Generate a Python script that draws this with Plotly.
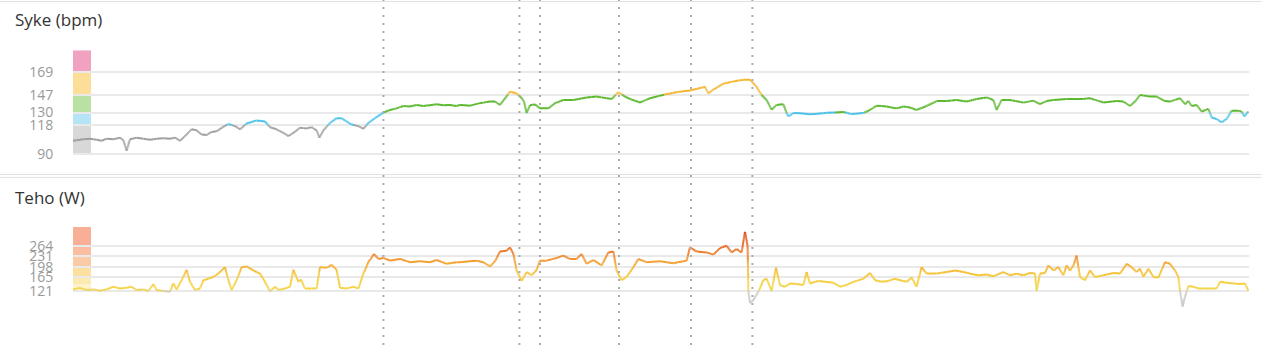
import numpy as np
import plotly.graph_objects as go

# ---------------- data ----------------
# time in seconds from start
hr_t = [0, 52, 85, 118, 143, 168, 202, 235, 252, 268, 285, 318, 352, 385, 418, 452, 485, 510, 535, 560,
        593, 618, 643, 668, 693, 718, 743, 777, 810, 835, 868, 918, 960, 985, 1018, 1052, 1077, 1102, 1135,
        1168, 1193, 1218, 1232, 1252, 1285, 1318, 1343, 1368, 1393, 1427, 1452, 1477, 1510, 1552, 1585,
        1618, 1652, 1685, 1718, 1752, 1785, 1818, 1852, 1885, 1918,
        1935, 1985, 2035, 2085, 2110, 2135, 2160, 2185, 2218, 2243, 2255, 2268, 2285, 2310, 2335, 2377,
        2410, 2452, 2502, 2568, 2618, 2668, 2693, 2727, 2760, 2785, 2835, 2885, 2935, 2985, 3035, 3085,
        3127, 3160, 3177, 3202, 3252, 3302, 3352, 3385, 3418, 3443, 3468, 3493, 3518, 3552, 3565, 3577,
        3602, 3635, 3685, 3735, 3768, 3852, 3893, 3935,
        3952, 3985, 4018, 4068, 4118, 4152, 4185, 4218, 4268, 4318, 4368, 4418, 4468, 4518, 4568, 4602,
        4618, 4643, 4685, 4752, 4802, 4835, 4868, 4902, 4968, 5052, 5085, 5152, 5218, 5252, 5285, 5310,
        5335, 5385, 5418, 5460, 5485, 5535, 5560, 5577, 5593, 5618, 5643, 5677, 5693, 5718, 5743, 5768,
        5793, 5827, 5843, 5857, 5877]
hr_v = [103, 104.5, 105, 104, 103, 105, 104.5, 106, 103.5, 93.5, 104.5, 106, 105, 104, 105, 105.5, 105, 106, 103, 107.5,
        114, 113, 109, 108.5, 111.5, 112, 115.4, 119, 117, 114, 119.5, 122.5, 121.5, 116, 114, 110.6, 107.5, 110.6, 115.4,
        114.8, 116, 113, 106, 113, 120, 124.6, 124.6, 121.5, 118.5, 117, 114.5, 120, 124.6, 130, 132.5,
        134, 136.3, 135.7, 137.2, 136.3, 137, 138, 137, 137.2, 136.3,
        137.3, 136.6, 139, 140.5, 140.5, 137.3, 143.5, 150, 148.3, 144, 140.5, 129.5, 137, 137.8, 134, 134,
        139, 142, 142, 144.4, 145.3, 143.7, 143, 149.4, 145.3, 143, 139.6, 143.7, 146.2, 148.3, 150, 151,
        153, 154.6, 148.3, 152, 157.6, 159.8, 161.4, 161.4, 154.6, 146.8, 142, 132.7, 137.3, 138, 131, 126.3,
        129.5, 129.3, 128.3, 129, 129.8, 130.5, 128.5, 129.3,
        129.5, 132.5, 136.6, 135.7, 134, 135.7, 134.8, 132.5, 136.3, 141, 141, 142, 140.5, 143, 144.5, 142,
        132.5, 142, 142, 139.5, 141.4, 138, 141, 142, 143, 143, 143.7, 139.6, 141, 140.5, 136.3, 140.5,
        146.8, 145.3, 145.3, 141, 140.5, 143.7, 138, 141, 136.3, 137.3, 131, 133.5, 125.3, 123.8, 120.7, 123.8,
        131.7, 131.7, 131, 126.3, 131]

pw_t = [0, 35, 68, 102, 135, 168, 202, 235, 268, 293, 318, 352, 377, 402, 418, 452, 485, 502, 518, 543,
        568, 585, 610, 635, 652, 677, 702, 727, 760, 777, 793, 818, 843, 868, 902, 935, 960, 985, 1010, 1027,
        1060, 1085, 1102, 1127, 1140, 1160, 1193, 1218, 1235, 1268, 1293, 1318, 1335, 1368, 1402, 1427, 1452,
        1477, 1505, 1527, 1552, 1585, 1635, 1685, 1735, 1785, 1818, 1868, 1918,
        1935, 1985, 2018, 2052, 2085, 2110, 2135, 2168, 2185, 2202, 2218, 2243, 2268, 2293, 2318, 2335, 2368,
        2418, 2452, 2485, 2518, 2543, 2568, 2602, 2643, 2677, 2702, 2718, 2743, 2768, 2802, 2827, 2868, 2935,
        3002, 3068, 3085, 3118, 3168, 3202, 3235, 3268, 3293, 3318, 3343, 3360, 3373, 3377, 3385, 3402, 3427,
        3452, 3468, 3493, 3515, 3535, 3560, 3585, 3618, 3652, 3668, 3685, 3727, 3760, 3802, 3835, 3868, 3902,
        3918, 3952, 3985, 4010, 4043, 4077, 4110, 4135, 4168, 4193, 4218, 4243, 4268, 4318, 4368, 4410, 4452,
        4485, 4527, 4568, 4602, 4652, 4685, 4718, 4752, 4785, 4810, 4818, 4835, 4860, 4877, 4902, 4927, 4952,
        4968, 4985, 5002, 5018, 5035, 5060, 5085, 5110, 5152, 5202, 5235, 5268, 5293, 5318, 5335, 5352, 5377,
        5402, 5427, 5460, 5485, 5510, 5527, 5535, 5548, 5560, 5577, 5602, 5627, 5652, 5685, 5718, 5735, 5768,
        5802, 5835, 5860, 5877]
pw_v = [126, 131, 124, 126, 122, 126, 134.5, 129, 131, 134.5, 124, 126, 121, 143, 124, 121, 119, 145, 126, 155,
        188, 150, 124, 129, 155, 160, 165.5, 176, 196.5, 155, 124, 155, 196.5, 198.6, 186, 176, 150, 120, 134.5, 124,
        129, 134.5, 188, 150, 157, 129, 129, 129, 196.5, 194.5, 203.8, 188, 131, 129, 134.5, 129, 176,
        212, 238, 222.4, 225.5, 217, 222.4, 212, 215, 212, 219, 207, 212,
        212, 215, 217, 212, 198.6, 215, 246, 248, 258.7, 238, 186, 153, 181, 170.7, 188, 217, 217,
        225.5, 232.8, 222.4, 222.4, 238, 207, 219, 202, 243, 246, 186, 155, 165.5, 196.5, 222.4, 212, 215,
        209, 217, 258.7, 246, 243, 236, 256.6, 264, 243, 253.5, 243, 308, 264, 121, 82.7, 93, 119,
        155, 160, 121, 194.5, 139.6, 134.5, 145, 143, 139.6, 181, 145, 153, 150, 147, 134.5, 140, 150,
        153, 160, 178, 155, 150, 153, 160, 155, 150, 163.5, 134.5, 196.5, 176, 176, 181, 186, 181,
        176, 170.7, 173, 167.6, 181, 170.7, 176, 170.7, 178, 176, 121, 176, 178, 201.7, 186, 196.5, 170.7,
        201.7, 186, 201.7, 232.8, 165.5, 155, 186, 165.5, 170.7, 178, 176, 207, 196.5, 181, 191.4, 165.5, 191.4,
        165.5, 163.5, 212, 207, 186, 165.5, 121, 72, 103.4, 136.5, 134.5, 129, 129, 129, 129, 150, 147,
        145, 143, 145, 121]

lap_t = [1552, 2232, 2335, 2730, 3090, 3397]

hr_ticks = [90, 118, 130, 147, 169]
hr_zone_top = 189.7
hr_zone_colors = ["#D8D8D8", "#B4E4F5", "#B8E1A2", "#FDDE98", "#F0A2C0"]
hr_line_colors = ["#9E9E9E", "#4AC2E8", "#5CB82E", "#F5B52E", "#E8709E"]

pw_ticks = [121, 165, 198, 231, 264]
pw_zone_edges = [121, 143, 165, 198, 231, 264, 323]
pw_zone_colors = ["#FEF3CA", "#FDEAB0", "#FDDFA0", "#FBCBA8", "#FABDA0", "#F8AF95"]

T_END = 5880

# ---------------- helpers ----------------
def hr_color(v):
    idx = 0
    for k, th in enumerate(hr_ticks[1:]):
        if v >= th:
            idx = k + 1
    return hr_line_colors[idx]

pw_stops = [(100, (200, 200, 200)), (119, (204, 204, 204)), (125, (244, 214, 74)),
            (170, (245, 200, 56)), (200, (244, 176, 50)), (225, (241, 145, 50)),
            (255, (236, 112, 40)), (310, (226, 72, 26))]

def pw_color(v):
    v = round(v / 4) * 4
    if v <= pw_stops[0][0]:
        c = pw_stops[0][1]
    elif v >= pw_stops[-1][0]:
        c = pw_stops[-1][1]
    else:
        for (a, ca), (b, cb) in zip(pw_stops[:-1], pw_stops[1:]):
            if a <= v <= b:
                f = (v - a) / (b - a)
                c = tuple(int(round(ca[i] + (cb[i] - ca[i]) * f)) for i in range(3))
                break
    return "rgb(%d,%d,%d)" % c

def colored_traces(t, v, cfn, step, xaxis, yaxis, width):
    buckets = {}
    for i in range(len(t) - 1):
        t0, t1, v0, v1 = t[i], t[i + 1], v[i], v[i + 1]
        n = max(1, int(np.ceil(abs(v1 - v0) / step)))
        for k in range(n):
            a, b = k / n, (k + 1) / n
            xa, xb = t0 + (t1 - t0) * a, t0 + (t1 - t0) * b
            ya, yb = v0 + (v1 - v0) * a, v0 + (v1 - v0) * b
            c = cfn((ya + yb) / 2)
            bx, by = buckets.setdefault(c, ([], []))
            bx += [xa, xb, None]
            by += [ya, yb, None]
    out = []
    for c, (bx, by) in buckets.items():
        out.append(go.Scatter(x=bx, y=by, mode="lines", xaxis=xaxis, yaxis=yaxis,
                              line=dict(color=c, width=width), hoverinfo="skip",
                              showlegend=False, connectgaps=False))
    return out

W, H = 1262, 355
def py(px):
    return 1 - px / H

fig = go.Figure()
for tr in colored_traces(hr_t, hr_v, hr_color, 0.5, "x", "y", 2):
    fig.add_trace(tr)
for tr in colored_traces(pw_t, pw_v, pw_color, 3, "x2", "y2", 2):
    fig.add_trace(tr)

xdom = [73 / W, 1249 / W]
axfont = dict(family="Open Sans", size=14, color="#999999")
fig.update_layout(
    width=W, height=H, margin=dict(l=0, r=0, t=0, b=0),
    paper_bgcolor="white", plot_bgcolor="white",
    xaxis=dict(domain=xdom, range=[0, T_END], visible=False, fixedrange=True),
    xaxis2=dict(domain=xdom, range=[0, T_END], visible=False, anchor="y2", fixedrange=True),
    yaxis=dict(domain=[py(160), py(51)], range=[87.2, 189.7], tickvals=hr_ticks,
               showgrid=True, gridcolor="#E9E9E9", gridwidth=2, zeroline=False,
               showline=False, ticks="outside", ticklen=16, tickcolor="rgba(0,0,0,0)",
               tickfont=axfont, fixedrange=True),
    yaxis2=dict(domain=[py(320), py(231)], range=[46.5, 323], tickvals=pw_ticks,
                showgrid=True, gridcolor="#E9E9E9", gridwidth=2, zeroline=False,
                showline=False, ticks="outside", ticklen=16, tickcolor="rgba(0,0,0,0)",
                tickfont=axfont, anchor="x2", fixedrange=True),
)

shapes = []
bar_w = 18 / 1176
hr_edges = hr_ticks + [hr_zone_top]
for i, col in enumerate(hr_zone_colors):
    shapes.append(dict(type="rect", xref="x domain", yref="y", x0=0, x1=bar_w,
                       y0=hr_edges[i], y1=hr_edges[i + 1], fillcolor=col, line_width=0, layer="below"))
for i, col in enumerate(pw_zone_colors):
    shapes.append(dict(type="rect", xref="x2 domain", yref="y2", x0=0, x1=bar_w,
                       y0=pw_zone_edges[i], y1=pw_zone_edges[i + 1], fillcolor=col, line_width=0, layer="below"))
for lt in lap_t:
    shapes.append(dict(type="line", xref="x", yref="paper", x0=lt, x1=lt, y0=py(351), y1=1,
                       line=dict(color="#ABABAB", width=2, dash="2px,6px"), layer="above"))
for yy in [1.5, 177.5, 180.5]:
    shapes.append(dict(type="line", xref="paper", yref="paper", x0=0, x1=1, y0=py(yy), y1=py(yy),
                       line=dict(color="#E2E2E2", width=1)))
fig.update_layout(shapes=shapes)

titlefont = dict(family="Open Sans", size=17, color="#333333")
fig.add_annotation(text="Syke (bpm)", xref="paper", yref="paper", x=13 / W, y=py(20),
                   xanchor="left", yanchor="middle", showarrow=False, font=titlefont)
fig.add_annotation(text="Teho (W)", xref="paper", yref="paper", x=13 / W, y=py(201),
                   xanchor="left", yanchor="middle", showarrow=False, font=titlefont)

fig.write_html(
    "out.html",
    config={"displayModeBar": False},
    post_script=("document.documentElement.style.margin='0';document.body.style.margin='0';"
                 "document.documentElement.style.overflow='hidden';document.body.style.overflow='hidden';"),
)
